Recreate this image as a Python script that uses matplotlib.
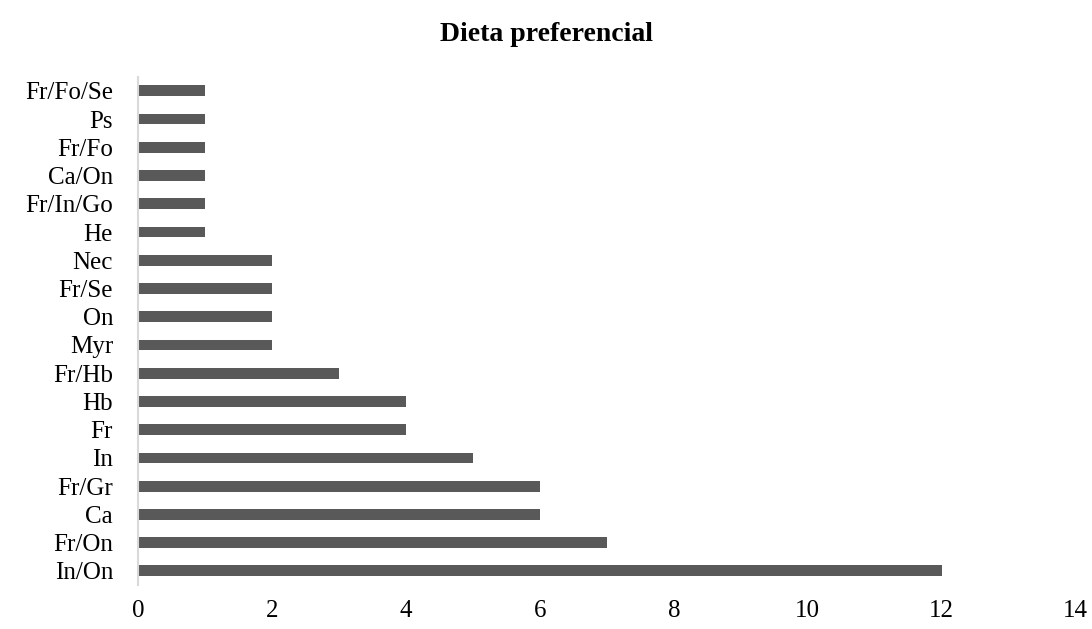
import matplotlib.pyplot as plt

# datos (de abajo hacia arriba)
categorias = ["In/On", "Fr/On", "Ca", "Fr/Gr", "In", "Fr", "Hb", "Fr/Hb", "Myr",
              "On", "Fr/Se", "Nec", "He", "Fr/In/Go", "Ca/On", "Fr/Fo", "Ps", "Fr/Fo/Se"]
valores = [12, 7, 6, 6, 5, 4, 4, 3, 2, 2, 2, 2, 1, 1, 1, 1, 1, 1]
ticks_x = [0, 2, 4, 6, 8, 10, 12, 14]

plt.rcParams['font.family'] = ['Liberation Serif', 'DejaVu Serif']

fig = plt.figure(figsize=(10.92, 6.29), dpi=100)
ax = fig.add_axes([0.1264, 0.070, 0.8586, 0.808])

ax.barh(range(len(categorias)), valores, height=0.38, color="#595959")
ax.set_yticks(range(len(categorias)))
ax.set_yticklabels(categorias, fontsize=18)
ax.set_xticks(ticks_x)
ax.set_xticklabels([str(t) for t in ticks_x], fontsize=18)
ax.set_xlim(0, 14)
ax.set_ylim(-0.5, len(categorias) - 0.5)

for s in ["top", "right", "bottom"]:
    ax.spines[s].set_visible(False)
ax.spines["left"].set_color("#d9d9d9")
ax.spines["left"].set_linewidth(1.5)
ax.tick_params(axis="both", length=0, colors="black")
ax.tick_params(axis="x", pad=10.5)
ax.tick_params(axis="y", pad=18)

fig.text(0.5, 0.945, "Dieta preferencial", ha="center", va="center",
         fontsize=20, fontweight="bold")

plt.savefig("out.png", dpi=100)
